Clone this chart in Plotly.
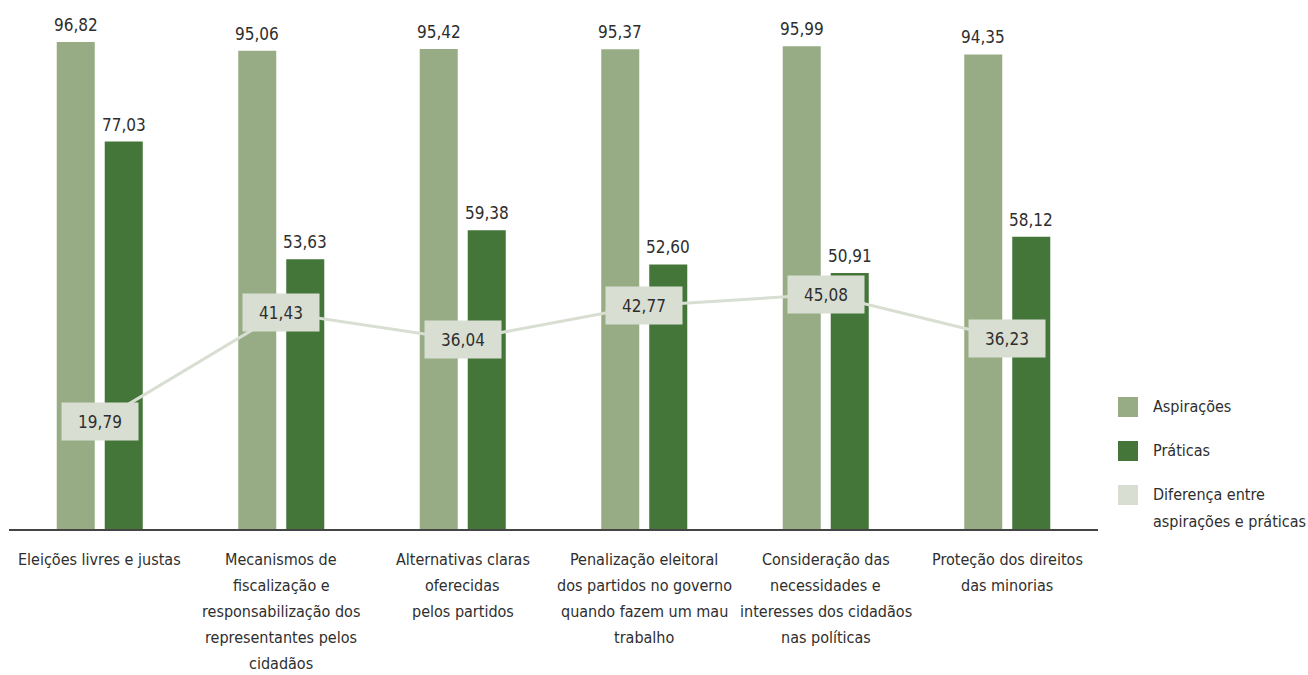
import plotly.graph_objects as go

categories = [
    "Eleições livres e justas",
    "Mecanismos de<br>fiscalização e<br>responsabilização dos<br>representantes pelos<br>cidadãos",
    "Alternativas claras<br>oferecidas<br>pelos partidos",
    "Penalização eleitoral<br>dos partidos no governo<br>quando fazem um mau<br>trabalho",
    "Consideração das<br>necessidades e<br>interesses dos cidadãos<br>nas políticas",
    "Proteção dos direitos<br>das minorias",
]
aspiracoes = [96.82, 95.06, 95.42, 95.37, 95.99, 94.35]
praticas = [77.03, 53.63, 59.38, 52.60, 50.91, 58.12]
diferenca = [19.79, 41.43, 36.04, 42.77, 45.08, 36.23]

legend_labels = ["Aspirações", "Práticas", "Diferença entre<br>aspirações e práticas"]

C_ASP = "#97AC84"
C_PRA = "#44763A"
C_DIF = "#D8DED1"
TXT = "#2E2E2E"
FONT = "DejaVu Sans Condensed, Roboto Condensed, Arial Narrow, sans-serif"
FS = 16

fmt = lambda v: f"{v:.2f}".replace(".", ",")
x = list(range(len(categories)))

# canvas geometry (pixels)
L, R, T, B = 9, 1098, 26, 529
W, H = R - L, B - T
def px(p):
    return (p - L) / W
def py(p):
    return (B - p) / H

BARGAP, GROUPGAP = 0.471, 0.208
slot = (1 - BARGAP) / 2
offs = [-slot / 2, slot / 2]

fig = go.Figure()
for vals, name, col, off in [(aspiracoes, legend_labels[0], C_ASP, offs[0]),
                             (praticas, legend_labels[1], C_PRA, offs[1])]:
    fig.add_trace(go.Bar(x=x, y=vals, name=name, marker_color=col,
                         marker_line_width=0))
    for xi, v in zip(x, vals):
        fig.add_annotation(x=xi + off, y=v, xref="x", yref="y",
                           text=fmt(v), showarrow=False, yanchor="bottom",
                           yshift=5, font=dict(size=17, color=TXT, family=FONT))

fig.add_trace(go.Scatter(
    x=x, y=diferenca, name=legend_labels[2], mode="lines",
    line=dict(color=C_DIF, width=3), yaxis="y2",
))

# value boxes on the difference line
for xi, v in zip(x, diferenca):
    fig.add_annotation(
        x=xi, y=v, xref="x", yref="y2", text=fmt(v), showarrow=False,
        font=dict(size=17, color=TXT, family=FONT),
        bgcolor=C_DIF, width=68, height=29, borderpad=4,
    )

# category labels, one line at a time below the axis
LINE_H = 26
for xi, lab in zip(x, categories):
    for k, line in enumerate(lab.split("<br>")):
        fig.add_annotation(x=xi, y=py(559 + k * LINE_H), xref="x", yref="paper",
                           text=line, showarrow=False, xanchor="center",
                           yanchor="middle",
                           font=dict(size=FS, color=TXT, family=FONT))

# legend on the right
legend_rows = [(407, C_ASP), (451, C_PRA), (495, C_DIF)]
for (yc, col), lab in zip(legend_rows, legend_labels):
    fig.add_shape(type="rect", xref="paper", yref="paper",
                  x0=px(1118), x1=px(1138), y0=py(yc + 10), y1=py(yc - 10),
                  fillcolor=col, line_width=0)
    for k, line in enumerate(lab.split("<br>")):
        fig.add_annotation(xref="paper", yref="paper", x=px(1151),
                           y=py(yc - 1 + k * 27), xanchor="left",
                           yanchor="middle", text=line, showarrow=False,
                           font=dict(size=FS, color=TXT, family=FONT))

fig.update_layout(
    width=1308, height=675,
    margin=dict(l=L, r=1308 - R, t=T, b=675 - B, autoexpand=False),
    paper_bgcolor="white", plot_bgcolor="white",
    barmode="group", bargap=BARGAP, bargroupgap=GROUPGAP,
    showlegend=False,
    font=dict(family=FONT, size=FS, color=TXT),
    xaxis=dict(
        tickmode="array", tickvals=x, ticktext=[""] * len(x),
        range=[-0.5, len(categories) - 0.5],
        showline=True, linecolor="#444444", linewidth=2,
        ticks="", showgrid=False, zeroline=False, automargin=False,
    ),
    yaxis=dict(range=[0, 100], visible=False, showgrid=False, zeroline=False),
    yaxis2=dict(range=[-1.6, 98.4], overlaying="y", visible=False,
                showgrid=False, zeroline=False),
)

fig.write_html("out.html")
